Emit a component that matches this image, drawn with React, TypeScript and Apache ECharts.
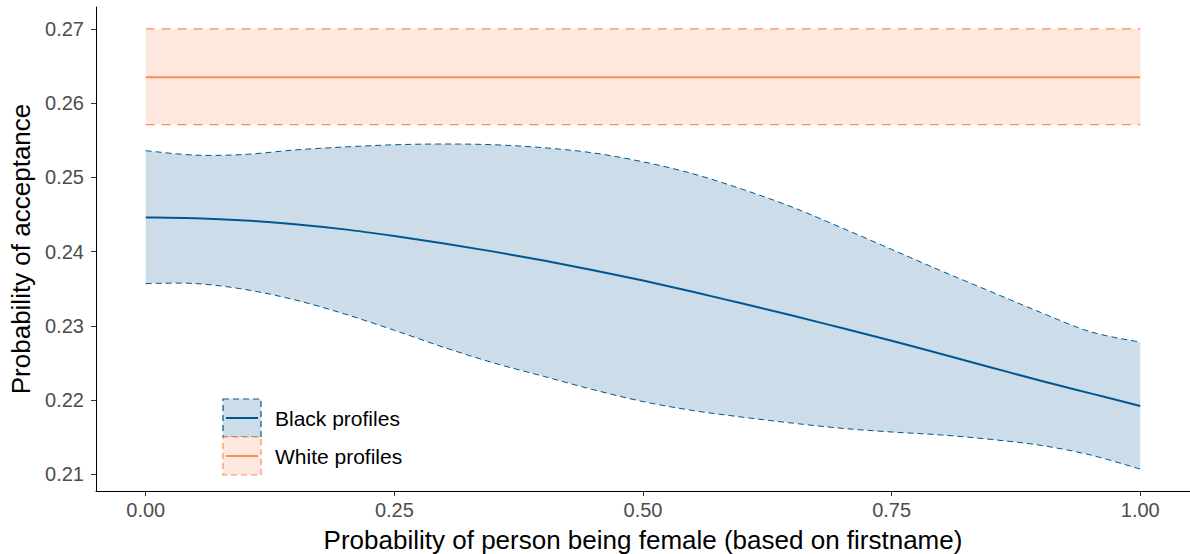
import React, { useEffect, useRef } from "react";
import * as echarts from "echarts";

const xValues = [0, 0.05, 0.1, 0.15, 0.2, 0.25, 0.3, 0.35, 0.4, 0.45, 0.5, 0.55, 0.6, 0.65, 0.7, 0.75, 0.8, 0.85, 0.9, 0.95, 1.0];
const blackMean = [0.2446, 0.2445, 0.2442, 0.2437, 0.243, 0.2421, 0.2411, 0.24, 0.2388, 0.2375, 0.2361, 0.2346, 0.233, 0.2314, 0.2297, 0.228, 0.2262, 0.2244, 0.2226, 0.2209, 0.2192];
const blackUpper = [0.2536, 0.253, 0.2531, 0.2537, 0.2541, 0.2544, 0.2545, 0.2544, 0.254, 0.2533, 0.2521, 0.2505, 0.2484, 0.246, 0.2432, 0.2403, 0.2374, 0.2346, 0.2318, 0.2292, 0.2278];
const blackLower = [0.2357, 0.2357, 0.2349, 0.2335, 0.2316, 0.2294, 0.2271, 0.225, 0.2232, 0.2214, 0.2198, 0.2186, 0.2177, 0.2169, 0.2162, 0.2157, 0.2153, 0.2147, 0.2139, 0.2126, 0.2107];
const whiteX = [0, 1];
const whiteMean = [0.2635, 0.2635];
const whiteUpper = [0.27, 0.27];
const whiteLower = [0.2571, 0.2571];

const xTicks = [0, 0.25, 0.5, 0.75, 1.0];
const yTicks = [0.21, 0.22, 0.23, 0.24, 0.25, 0.26, 0.27];
const legendNames = ["Black profiles", "White profiles"];

const BLUE = "#00578f";
const BLUE_FILL = "#ccdde9";
const ORANGE = "#fc8d59";
const ORANGE_FILL = "#fee8de";
const FONT = "Liberation Sans";

type Pt = number[];

// Catmull-Rom spline through pixel points, as cubic Bezier segments
function curveSegs(p: Pt[]): string {
  let d = "";
  const n = p.length;
  for (let i = 0; i < n - 1; i++) {
    const p0 = p[Math.max(i - 1, 0)];
    const p1 = p[i];
    const p2 = p[i + 1];
    const p3 = p[Math.min(i + 2, n - 1)];
    const c1x = p1[0] + (p2[0] - p0[0]) / 6;
    const c1y = p1[1] + (p2[1] - p0[1]) / 6;
    const c2x = p2[0] - (p3[0] - p1[0]) / 6;
    const c2y = p2[1] - (p3[1] - p1[1]) / 6;
    d += ` C ${c1x} ${c1y} ${c2x} ${c2y} ${p2[0]} ${p2[1]}`;
  }
  return d;
}

function openPath(p: Pt[]): string {
  return `M ${p[0][0]} ${p[0][1]}` + curveSegs(p);
}

function bandPath(up: Pt[], lo: Pt[]): string {
  const rl = lo.slice().reverse();
  return `M ${up[0][0]} ${up[0][1]}` + curveSegs(up) + ` L ${rl[0][0]} ${rl[0][1]}` + curveSegs(rl) + " Z";
}

function bandSeries(xs: number[], lo: number[], mid: number[], hi: number[], color: string, fill: string, dash: number[], dashWidth: number) {
  return {
    type: "custom",
    data: [[xs[0], mid[0]]],
    silent: true,
    z: 2,
    renderItem: (_params: any, api: any) => {
      const up = xs.map((x, i) => api.coord([x, hi[i]]));
      const low = xs.map((x, i) => api.coord([x, lo[i]]));
      const m = xs.map((x, i) => api.coord([x, mid[i]]));
      return {
        type: "group",
        children: [
          { type: "path", shape: { pathData: bandPath(up, low) }, style: { fill, stroke: "none" } },
          { type: "path", shape: { pathData: openPath(up) }, style: { fill: "none", stroke: color, lineWidth: dashWidth, lineDash: dash } },
          { type: "path", shape: { pathData: openPath(low) }, style: { fill: "none", stroke: color, lineWidth: dashWidth, lineDash: dash } },
          { type: "path", shape: { pathData: openPath(m) }, style: { fill: "none", stroke: color, lineWidth: 2 } },
        ],
      };
    },
  };
}

export default function App() {
  const ref = useRef<HTMLDivElement>(null);
  useEffect(() => {
    document.body.style.margin = "0";
    const chart = echarts.init(ref.current!, null, { renderer: "svg" });
    const legendItems: any[] = [];
    const lx = 223, ly = 399, kw = 38, kh = 38;
    [[BLUE, BLUE_FILL], [ORANGE, ORANGE_FILL]].forEach((c: any, i) => {
      const y0 = ly + i * kh;
      legendItems.push({
        type: "rect",
        z: 100,
        shape: { x: lx, y: y0, width: kw, height: kh },
        style: { fill: c[1], stroke: c[0], lineWidth: 1.2, lineDash: [6, 4] },
      });
      legendItems.push({
        type: "line",
        z: 101,
        shape: { x1: lx + 3, y1: y0 + kh / 2, x2: lx + kw - 3, y2: y0 + kh / 2 },
        style: { stroke: c[0], lineWidth: 2 },
      });
      legendItems.push({
        type: "text",
        z: 101,
        x: 275,
        y: y0 + kh / 2,
        style: { text: legendNames[i], fontFamily: FONT, fontSize: 21, fill: "#000", verticalAlign: "middle" },
      });
    });
    chart.setOption({
      animation: false,
      backgroundColor: "#fff",
      grid: { left: 96, right: 0, top: 7, bottom: 63, containLabel: false, outerBoundsMode: "none" },
      xAxis: {
        type: "value",
        min: -0.05,
        max: 1.05,
        z: 10,
        name: "Probability of person being female (based on firstname)",
        nameLocation: "middle",
        nameGap: 36,
        nameTextStyle: { fontFamily: FONT, fontSize: 26, color: "#000" },
        axisLine: { show: true, onZero: false, lineStyle: { color: "#000", width: 1 } },
        axisTick: { show: true, length: 5, lineStyle: { color: "#333" }, customValues: xTicks },
        axisLabel: {
          customValues: xTicks,
          formatter: (v: number) => v.toFixed(2),
          fontFamily: FONT,
          fontSize: 20,
          color: "#4d4d4d",
          margin: 9,
        },
        splitLine: { show: false },
      },
      yAxis: {
        type: "value",
        min: 0.20775,
        max: 0.27296,
        z: 10,
        name: "Probability of acceptance",
        nameLocation: "middle",
        nameGap: 62,
        nameTextStyle: { fontFamily: FONT, fontSize: 26, color: "#000" },
        axisLine: { show: true, onZero: false, lineStyle: { color: "#000", width: 1 } },
        axisTick: { show: true, length: 5, lineStyle: { color: "#333" }, customValues: yTicks },
        axisLabel: {
          customValues: yTicks,
          formatter: (v: number) => v.toFixed(2),
          fontFamily: FONT,
          fontSize: 20,
          color: "#4d4d4d",
          margin: 12,
        },
        splitLine: { show: false },
      },
      series: [
        bandSeries(xValues, blackLower, blackMean, blackUpper, BLUE, BLUE_FILL, [6, 4], 1),
        bandSeries(whiteX, whiteLower, whiteMean, whiteUpper, ORANGE, ORANGE_FILL, [9, 7], 1.2),
      ],
      graphic: { elements: legendItems },
    });
    return () => chart.dispose();
  }, []);
  return <div ref={ref} style={{ width: 1190, height: 554 }} />;
}
